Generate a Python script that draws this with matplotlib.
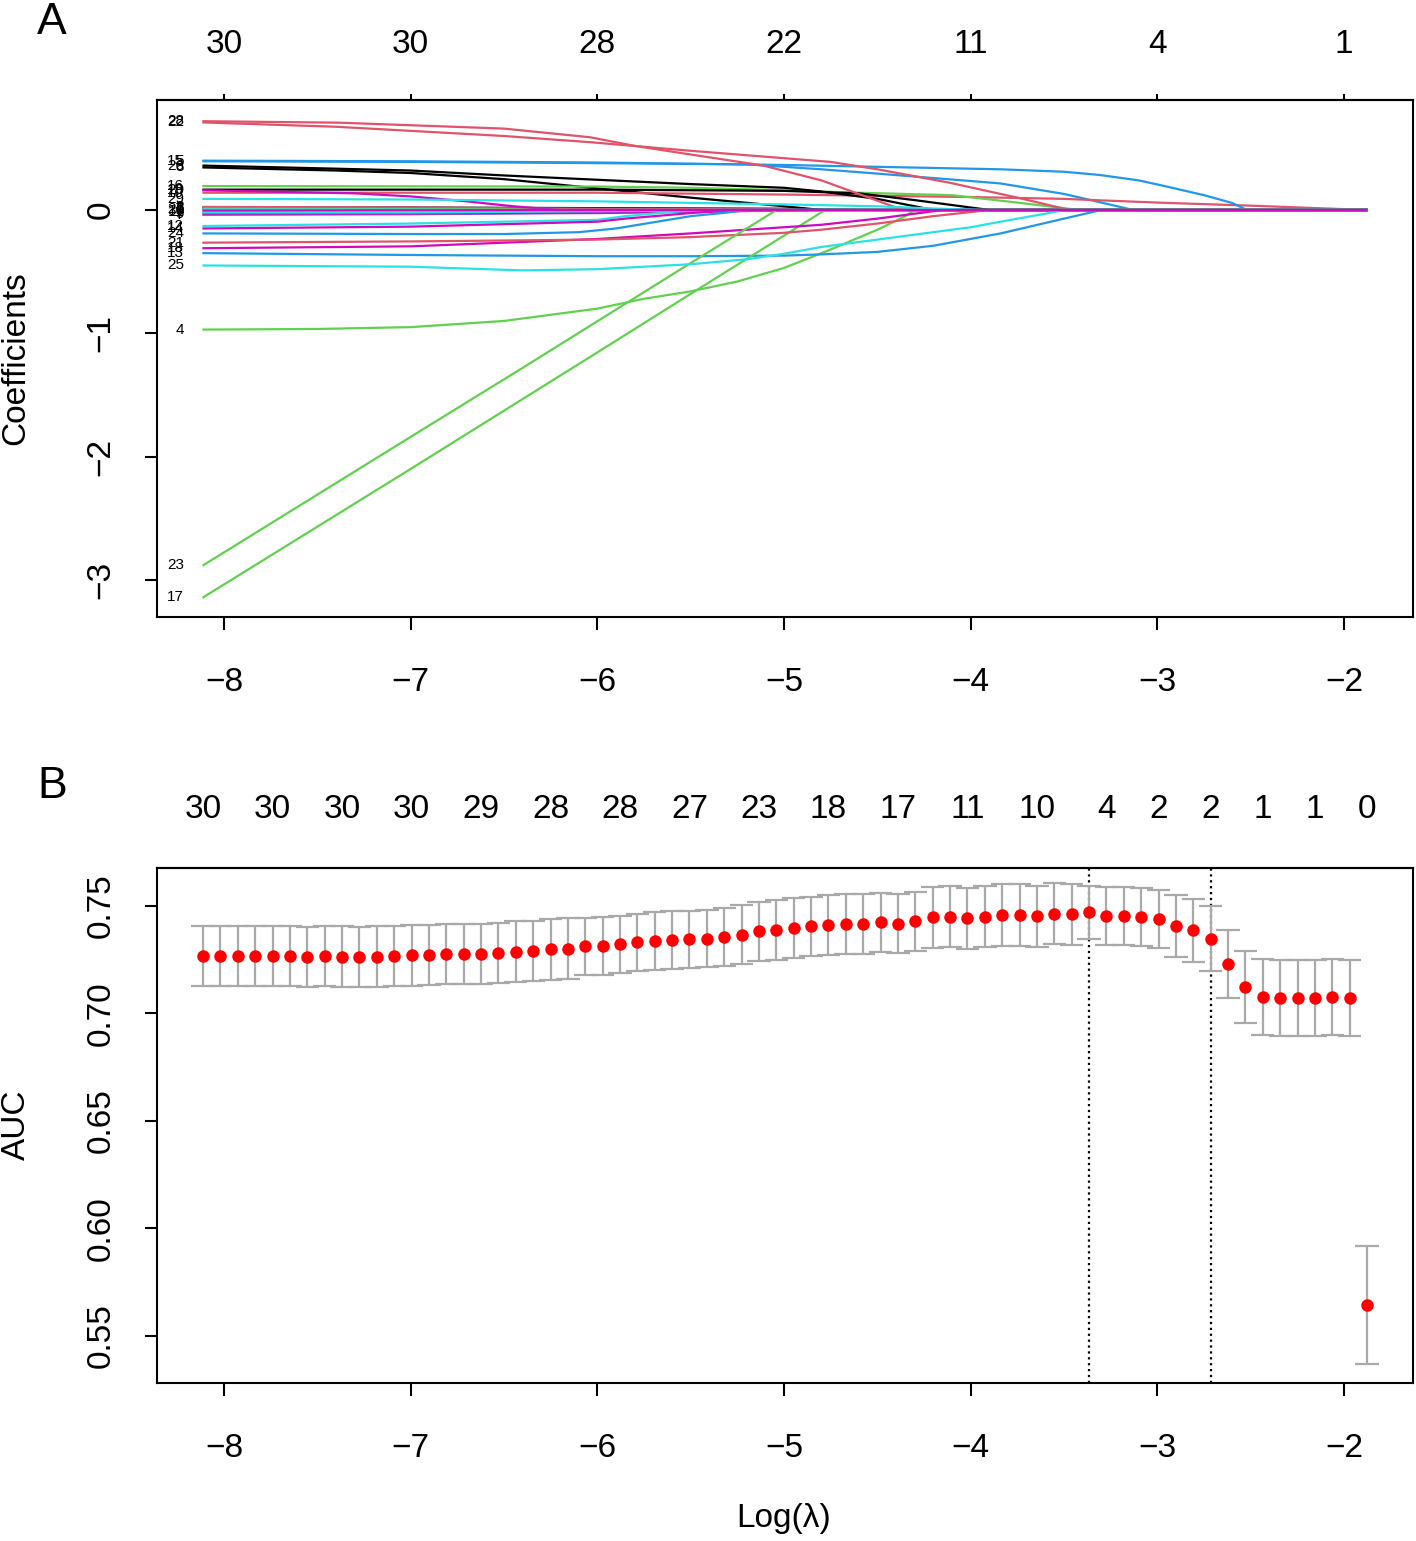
import matplotlib
matplotlib.use("Agg")
import matplotlib.pyplot as plt
import numpy as np

plt.rcParams['font.family'] = ['Liberation Sans', 'DejaVu Sans']

BLACK, RED, GREEN, BLUE, CYAN, MAGENTA = "#000000", "#DF536B", "#61D04F", "#2297E6", "#28E2E5", "#CD0BBC"

# ---------------- Panel A: coefficient paths (log lambda knots, coefficient) ----------------
var_labels = list(range(1, 31))
var_colors = [BLACK, BLACK, RED, GREEN, BLUE, GREEN, BLUE, BLACK, MAGENTA, RED,
              CYAN, CYAN, BLUE, MAGENTA, BLUE, GREEN, GREEN, MAGENTA, BLACK, MAGENTA,
              RED, RED, GREEN, BLUE, CYAN, BLACK, CYAN, RED, CYAN, MAGENTA]
path_loglam = [
    [-8.11, -6.5, -5.5, -4.9, -1.88],
    [-8.11, -7.0, -6.0, -5.0, -4.5, -1.88],
    [-8.11, -7.0, -6.0, -5.0, -4.6, -1.88],
    [-8.11, -7.5, -7.0, -6.5, -6.0, -5.75, -5.5, -5.25, -5.0, -4.75, -4.5, -4.35, -4.3, -1.88],
    [-8.11, -7.0, -6.0, -5.2, -4.8, -4.5, -4.0, -3.84, -3.5, -3.3, -3.13, -1.88],
    [-8.11, -6.5, -6.2, -1.88],
    [-8.11, -7.0, -6.0, -5.5, -4.7, -1.88],
    [-8.11, -7.4, -7.0, -6.5, -6.1, -5.5, -5.0, -4.8, -1.88],
    [-8.11, -7.0, -6.0, -5.5, -4.8, -1.88],
    [-8.11, -6.0, -5.0, -4.5, -4.0, -3.5, -3.0, -2.5, -1.88],
    [-8.11, -7.0, -6.0, -4.9, -1.88],
    [-8.11, -7.0, -6.0, -5.85, -5.6, -5.4, -1.88],
    [-8.11, -7.0, -6.0, -5.5, -5.0, -4.8, -4.5, -4.2, -3.84, -3.5, -3.3, -1.88],
    [-8.11, -7.0, -6.0, -5.85, -5.5, -5.25, -1.88],
    [-8.11, -7.0, -6.0, -5.0, -4.5, -3.84, -3.5, -3.31, -3.1, -2.95, -2.75, -2.6, -2.52, -1.88],
    [-8.11, -6.0, -5.5, -5.0, -4.6, -4.1, -3.75, -3.42, -1.88],
    [-8.11, -7.0, -6.0, -5.5, -4.78, -1.88],
    [-8.11, -7.0, -6.0, -5.5, -5.2, -5.0, -4.8, -4.5, -4.3, -4.15, -1.88],
    [-8.11, -6.0, -5.0, -4.6, -4.3, -4.0, -3.9, -1.88],
    [-8.11, -7.3, -7.0, -6.7, -6.45, -6.2, -1.88],
    [-8.11, -7.0, -6.0, -5.5, -5.0, -4.8, -4.5, -4.2, -3.9, -1.88],
    [-8.11, -7.4, -6.5, -6.04, -5.5, -5.0, -4.75, -4.5, -4.11, -3.75, -3.47, -1.88],
    [-8.11, -7.0, -6.4, -5.5, -5.04, -1.88],
    [-8.11, -7.0, -6.5, -6.1, -5.9, -5.7, -5.5, -5.3, -5.2, -1.88],
    [-8.11, -7.0, -6.4, -6.0, -5.5, -5.2, -5.0, -4.8, -4.5, -4.0, -3.84, -3.6, -3.5, -1.88],
    [-8.11, -7.4, -7.0, -6.5, -6.0, -5.5, -5.0, -4.8, -4.5, -4.2, -1.88],
    [-8.11, -7.0, -6.5, -1.88],
    [-8.11, -7.38, -6.5, -6.04, -5.8, -5.5, -5.11, -4.8, -4.6, -4.4, -4.37, -1.88],
    [-8.11, -7.0, -6.0, -5.0, -4.5, -4.2, -3.95, -1.88],
    [-8.11, -6.0, -1.88],
]
path_coef = [
    [0.008, 0.005, 0.002, 0.0, 0.0],
    [0.02, 0.02, 0.015, 0.01, 0.0, 0.0],
    [0.025, 0.02, 0.01, 0.005, 0.0, 0.0],
    [-0.97, -0.965, -0.95, -0.90, -0.80, -0.72, -0.66, -0.58, -0.47, -0.32, -0.16, -0.05, 0.0, 0.0],
    [0.395, 0.39, 0.38, 0.37, 0.33, 0.295, 0.235, 0.215, 0.13, 0.06, 0.0, 0.0],
    [0.01, 0.005, 0.0, 0.0],
    [-0.04, -0.035, -0.02, -0.012, 0.0, 0.0],
    [0.345, 0.32, 0.30, 0.25, 0.19, 0.10, 0.03, 0.0, 0.0],
    [-0.03, -0.03, -0.025, -0.015, 0.0, 0.0],
    [0.14, 0.14, 0.125, 0.115, 0.105, 0.09, 0.06, 0.035, 0.0],
    [-0.02, -0.02, -0.01, 0.0, 0.0],
    [-0.13, -0.11, -0.08, -0.05, -0.015, 0.0, 0.0],
    [-0.35, -0.365, -0.375, -0.375, -0.37, -0.36, -0.34, -0.29, -0.19, -0.07, 0.0, 0.0],
    [-0.15, -0.135, -0.095, -0.07, -0.025, 0.0, 0.0],
    [0.40, 0.395, 0.385, 0.365, 0.35, 0.33, 0.31, 0.284, 0.24, 0.19, 0.12, 0.057, 0.0, 0.0],
    [0.194, 0.19, 0.18, 0.16, 0.14, 0.12, 0.06, 0.0, 0.0],
    [-3.14, -2.10, -1.155, -0.68, 0.0, 0.0],
    [-0.31, -0.295, -0.235, -0.19, -0.16, -0.14, -0.12, -0.07, -0.03, 0.0, 0.0],
    [0.165, 0.165, 0.155, 0.135, 0.08, 0.02, 0.0, 0.0],
    [0.16, 0.135, 0.11, 0.07, 0.03, 0.0, 0.0],
    [-0.265, -0.255, -0.24, -0.22, -0.185, -0.16, -0.11, -0.05, 0.0, 0.0],
    [0.71, 0.675, 0.60, 0.55, 0.48, 0.42, 0.39, 0.33, 0.22, 0.10, 0.0, 0.0],
    [-2.88, -1.84, -1.28, -0.43, 0.0, 0.0],
    [-0.19, -0.195, -0.195, -0.18, -0.15, -0.10, -0.05, -0.02, 0.0, 0.0],
    [-0.45, -0.46, -0.49, -0.48, -0.44, -0.40, -0.355, -0.30, -0.24, -0.14, -0.095, -0.03, 0.0, 0.0],
    [0.36, 0.335, 0.32, 0.28, 0.245, 0.21, 0.18, 0.15, 0.09, 0.0, 0.0],
    [0.005, 0.003, 0.0, 0.0],
    [0.72, 0.708, 0.66, 0.59, 0.52, 0.45, 0.36, 0.24, 0.13, 0.02, 0.0, 0.0],
    [0.09, 0.085, 0.07, 0.045, 0.03, 0.012, 0.0, 0.0],
    [-0.005, 0.0, 0.0],
]
xticks_vals = [-8, -7, -6, -5, -4, -3, -2]
topA_labels = ["30", "30", "28", "22", "11", "4", "1"]
yticksA = [-3, -2, -1, 0]

# ---------------- Panel B: cross-validated AUC ----------------
cv_loglam = [-8.112, -8.019, -7.926, -7.833, -7.740, -7.647, -7.554, -7.461, -7.368, -7.275,
             -7.181, -7.088, -6.995, -6.902, -6.809, -6.716, -6.623, -6.530, -6.437, -6.344,
             -6.251, -6.158, -6.065, -5.972, -5.879, -5.786, -5.693, -5.600, -5.507, -5.413,
             -5.320, -5.227, -5.134, -5.041, -4.948, -4.855, -4.762, -4.669, -4.576, -4.483,
             -4.390, -4.297, -4.204, -4.111, -4.018, -3.924, -3.831, -3.738, -3.645, -3.552,
             -3.459, -3.366, -3.273, -3.180, -3.087, -2.994, -2.901, -2.808, -2.715, -2.622,
             -2.529, -2.436, -2.342, -2.249, -2.156, -2.063, -1.970, -1.877]
cv_auc = [0.7267, 0.7267, 0.7267, 0.7267, 0.7267, 0.7267, 0.7264, 0.7267, 0.7265, 0.7264,
          0.7265, 0.7267, 0.7270, 0.7272, 0.7275, 0.7275, 0.7278, 0.7283, 0.7288, 0.7292,
          0.7298, 0.7302, 0.7312, 0.7314, 0.7322, 0.7331, 0.7337, 0.7342, 0.7345, 0.7348,
          0.7356, 0.7367, 0.7382, 0.7388, 0.7398, 0.7405, 0.7412, 0.7416, 0.7416, 0.7424,
          0.7418, 0.7429, 0.7447, 0.7450, 0.7443, 0.7450, 0.7458, 0.7458, 0.7453, 0.7463,
          0.7461, 0.7471, 0.7453, 0.7455, 0.7447, 0.7440, 0.7407, 0.7387, 0.7348, 0.7232,
          0.7125, 0.7077, 0.7073, 0.7073, 0.7073, 0.7077, 0.7073, 0.5644]
cv_se = [0.0140, 0.0140, 0.0140, 0.0140, 0.0140, 0.0140, 0.0140, 0.0140, 0.0140, 0.0140,
         0.0140, 0.0140, 0.0140, 0.0140, 0.0140, 0.0140, 0.0140, 0.0140, 0.0140, 0.0140,
         0.0140, 0.0140, 0.0133, 0.0133, 0.0133, 0.0133, 0.0133, 0.0133, 0.0133, 0.0133,
         0.0133, 0.0138, 0.0138, 0.0138, 0.0138, 0.0138, 0.0138, 0.0138, 0.0138, 0.0138,
         0.0138, 0.0138, 0.0142, 0.0142, 0.0142, 0.0142, 0.0142, 0.0142, 0.0142, 0.0142,
         0.0142, 0.0124, 0.0135, 0.0135, 0.0135, 0.0135, 0.0142, 0.0147, 0.0150, 0.0158,
         0.0167, 0.0177, 0.0177, 0.0177, 0.0177, 0.0177, 0.0177, 0.0275]
loglam_min = -3.366
loglam_1se = -2.715
topB_pos = [-8.112, -7.740, -7.368, -6.995, -6.623, -6.251, -5.879, -5.507, -5.134, -4.762,
            -4.390, -4.018, -3.645, -3.273, -2.994, -2.715, -2.436, -2.156, -1.877]
topB_labels = ["30", "30", "30", "30", "29", "28", "28", "27", "23", "18",
               "17", "11", "10", "4", "2", "2", "1", "1", "0"]
yticksB = [0.55, 0.60, 0.65, 0.70, 0.75]

# ---------------- Figure ----------------
W, H = 1416, 1541
fig = plt.figure(figsize=(W / 100, H / 100), dpi=100)
axA = fig.add_axes([157 / W, 1 - 617 / H, (1413 - 157) / W, (617 - 100) / H])
axB = fig.add_axes([157 / W, 1 - 1383 / H, (1413 - 157) / W, (1383 - 868) / H])

FS = 24
for ax in (axA, axB):
    for s in ax.spines.values():
        s.set_linewidth(1.5)
    ax.set_xlim(-8.359, -1.631)
    ax.set_xticks(xticks_vals)
    ax.tick_params(axis='x', direction='out', length=9, width=1.5, labelsize=FS, pad=27)
    ax.tick_params(axis='y', direction='out', length=9, width=1.5, labelsize=FS, pad=20)

# Panel A
for lab, col, xs, ys in zip(var_labels, var_colors, path_loglam, path_coef):
    axA.plot(xs, ys, color=col, lw=1.6, solid_joinstyle='round')
    axA.annotate(str(lab), xy=(xs[0], ys[0]), xytext=(-14, 0), textcoords='offset points',
                 ha='right', va='center', fontsize=11)
axA.set_ylim(-3.301, 0.892)
axA.set_yticks(yticksA)
axA.set_yticklabels([f"{v:d}".replace("-", "\u2212") for v in yticksA])
for t in axA.get_yticklabels():
    t.set_rotation(90)
    t.set_va('center')
secA = axA.secondary_xaxis('top')
secA.set_xticks(xticks_vals, labels=topA_labels)
secA.tick_params(direction='out', length=4, width=1.5, labelsize=FS, pad=25)
secA.spines['top'].set_linewidth(1.5)

# Panel B
auc = np.array(cv_auc)
se = np.array(cv_se)
xl = np.array(cv_loglam)
barw = 0.01 * (xl.max() - xl.min())
axB.vlines(xl, auc - se, auc + se, color='darkgrey', lw=1.6, zorder=2)
axB.hlines(auc + se, xl - barw, xl + barw, color='darkgrey', lw=1.6, zorder=2)
axB.hlines(auc - se, xl - barw, xl + barw, color='darkgrey', lw=1.6, zorder=2)
axB.plot(xl, auc, 'o', color='red', ms=9, mec='none', zorder=3)
axB.axvline(loglam_min, color='black', ls=':', lw=1.6, zorder=1)
axB.axvline(loglam_1se, color='black', ls=':', lw=1.6, zorder=1)
axB.set_ylim(0.52814, 0.76767)
axB.set_yticks(yticksB)
axB.set_yticklabels([f"{v:.2f}" for v in yticksB])
for t in axB.get_yticklabels():
    t.set_rotation(90)
    t.set_va('center')
secB = axB.secondary_xaxis('top')
secB.set_xticks(topB_pos, labels=topB_labels)
secB.tick_params(length=0, labelsize=FS, pad=31)
secB.spines['top'].set_linewidth(1.5)

# Texts
fig.text(16 / W, 1 - 358 / H, "Coefficients", rotation=90, ha='center', va='center', fontsize=FS)
fig.text(16 / W, 1 - 1125 / H, "AUC", rotation=90, ha='center', va='center', fontsize=FS)
fig.text(784 / W, 1 - 1518 / H, "Log(\u03bb)", ha='center', va='center', fontsize=FS)
fig.text(52 / W, 1 - 22 / H, "A", ha='center', va='center', fontsize=32)
fig.text(52 / W, 1 - 787 / H, "B", ha='center', va='center', fontsize=32)

fig.savefig("out.png", dpi=100)
